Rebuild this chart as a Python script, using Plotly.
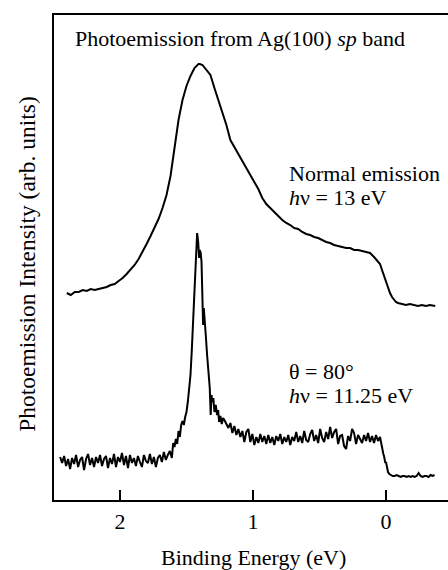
import plotly.graph_objects as go

# ---- Data (binding energy in eV, intensity in arbitrary units) ----
normal_energy = [2.40, 2.37, 2.34, 2.31, 2.28, 2.25, 2.22, 2.19, 2.16, 2.13, 2.10, 2.07, 2.04, 2.01,
                 1.98, 1.95, 1.92, 1.89, 1.86, 1.83, 1.80, 1.77, 1.74, 1.71, 1.68, 1.65, 1.62, 1.59,
                 1.56, 1.53, 1.50, 1.47, 1.44, 1.41, 1.40, 1.38, 1.35, 1.32, 1.29, 1.26, 1.23, 1.20,
                 1.17, 1.14, 1.11, 1.08, 1.05, 1.02, 0.99, 0.96, 0.93, 0.90, 0.87, 0.84, 0.81, 0.78,
                 0.75, 0.72, 0.69, 0.66, 0.63, 0.60, 0.57, 0.54, 0.51, 0.48, 0.45, 0.42, 0.39, 0.36,
                 0.33, 0.30, 0.27, 0.24, 0.21, 0.18, 0.15, 0.12, 0.09, 0.06, 0.045, 0.03, 0.015, 0.00,
                 -0.015, -0.03, -0.045, -0.06, -0.075, -0.09, -0.12, -0.15, -0.18, -0.21, -0.24,
                 -0.27, -0.30, -0.33, -0.36, -0.37]
normal_intensity = [207, 205, 208, 208, 210, 209, 211, 210, 211, 212, 213, 215, 216, 219,
                    222, 226, 230, 235, 241, 248, 256, 264, 272, 281, 292, 305, 324, 352,
                    380, 400, 414, 424, 432, 436, 436, 435, 430, 425, 412, 400, 388, 375,
                    360, 353, 346, 339, 332, 326, 318, 311, 302, 296, 292, 288, 283, 280,
                    277, 275, 272, 271, 268, 266, 265, 263, 262, 260, 258, 257, 255, 254,
                    253, 252, 252, 250, 250, 249, 248, 247, 243, 239, 236, 230, 224, 218,
                    212, 207, 203, 200, 198, 197, 196, 195, 196, 195, 194,
                    195, 194, 195, 194, 194]

grazing_energy = [2.450, 2.435, 2.420, 2.405, 2.390, 2.375, 2.360, 2.345, 2.330, 2.315, 2.300,
                  2.285, 2.270, 2.255, 2.240, 2.225, 2.210, 2.195, 2.180, 2.165, 2.150, 2.135,
                  2.120, 2.105, 2.090, 2.075, 2.060, 2.045, 2.030, 2.015, 2.000, 1.985, 1.970,
                  1.955, 1.940, 1.925, 1.910, 1.895, 1.880, 1.865, 1.850, 1.835, 1.820, 1.805,
                  1.790, 1.775, 1.760, 1.745, 1.730, 1.715, 1.700, 1.685, 1.670, 1.655, 1.640,
                  1.625, 1.610, 1.600, 1.590, 1.580, 1.570, 1.560, 1.550, 1.540, 1.530, 1.520,
                  1.510, 1.500, 1.490, 1.480, 1.470, 1.460, 1.450, 1.440, 1.430, 1.420, 1.412,
                  1.405, 1.400, 1.393, 1.387, 1.380, 1.375, 1.370, 1.363, 1.355, 1.345, 1.335,
                  1.325, 1.318, 1.312, 1.305, 1.298, 1.290, 1.280, 1.270, 1.262, 1.255, 1.245,
                  1.235, 1.225,
                  1.215, 1.200, 1.185, 1.170, 1.155, 1.140, 1.125, 1.110, 1.095, 1.080, 1.065,
                  1.050, 1.035, 1.020, 1.005, 0.990, 0.975, 0.960, 0.945, 0.930, 0.915, 0.900,
                  0.885, 0.870, 0.855, 0.840, 0.825, 0.810, 0.795, 0.780, 0.765, 0.750, 0.735,
                  0.720, 0.705, 0.690, 0.675, 0.660, 0.645, 0.630, 0.615, 0.600, 0.585, 0.570,
                  0.555, 0.540, 0.525, 0.510, 0.495, 0.480, 0.465, 0.450, 0.435, 0.420, 0.405,
                  0.390, 0.375, 0.360, 0.345, 0.330, 0.315, 0.300, 0.285, 0.270, 0.255, 0.240,
                  0.225, 0.210, 0.195, 0.180, 0.165, 0.150, 0.135, 0.120, 0.105, 0.090, 0.075,
                  0.060, 0.045,
                  0.035, 0.030, 0.025, 0.020, 0.015, 0.010, 0.005, 0.000, -0.005, -0.010, -0.015,
                  -0.025, -0.035, -0.050, -0.065, -0.080, -0.095, -0.110, -0.125, -0.140, -0.155,
                  -0.170, -0.185, -0.200, -0.215, -0.230, -0.245, -0.260, -0.275, -0.290, -0.305,
                  -0.320, -0.335, -0.350, -0.365]
grazing_intensity = [43, 37, 44, 34, 41, 31, 42, 36, 45, 33, 40,
                     43, 30, 41, 46, 35, 42, 33, 43, 37, 45, 34,
                     41, 44, 32, 42, 36, 46, 33, 43, 38, 47, 35,
                     44, 32, 45, 37, 42, 34, 44, 38, 33, 45, 39,
                     37, 46, 36, 43, 33, 42, 45, 38, 48, 40, 45,
                     49, 42, 57, 53, 61, 56, 69, 63, 75, 79, 75,
                     83, 88, 98, 112, 125, 150, 178, 210, 240, 267, 258,
                     242, 250, 247, 238, 195, 175, 192, 172, 165, 145, 125,
                     112, 85, 105, 98, 102, 88, 95, 85, 90, 78, 84,
                     76, 82,
                     80, 76, 72, 77, 67, 74, 65, 71, 63, 69, 58,
                     68, 71, 58, 66, 55, 63, 57, 66, 58, 64, 56,
                     65, 57, 63, 55, 64, 59, 66, 56, 63, 58, 65,
                     55, 63, 59, 68, 58, 64, 57, 69, 60, 58, 66,
                     70, 59, 65, 57, 71, 62, 58, 68, 61, 73, 62,
                     68, 71, 56, 64, 65, 54, 51, 64, 59, 71, 67,
                     56, 65, 61, 57, 65, 59, 67, 58, 64, 57, 65,
                     59, 63,
                     55, 52, 47, 46, 44, 40, 37, 38, 34, 32, 28,
                     26, 25, 24, 24, 25, 24, 23, 24, 24, 23,
                     24, 23, 24, 23, 24, 27, 24, 23, 24, 24,
                     23, 25, 24, 25]

tick_values = [2, 1, 0]
tick_labels = ["2", "1", "0"]

FONT = "Liberation Serif, Times New Roman, serif"

fig = go.Figure()
fig.add_trace(go.Scatter(x=normal_energy, y=normal_intensity, mode="lines",
                         line=dict(color="black", width=2), showlegend=False))
fig.add_trace(go.Scatter(x=grazing_energy, y=grazing_intensity, mode="lines",
                         line=dict(color="black", width=2), showlegend=False))

ann_font = dict(family=FONT, size=22, color="black")
fig.add_annotation(x=2.353, y=462, xref="x", yref="y", xanchor="left", yanchor="middle",
                   text="Photoemission from Ag(100) <i>sp</i> band", showarrow=False, font=ann_font)
fig.add_annotation(x=0.745, y=327, xref="x", yref="y", xanchor="left", yanchor="middle",
                   text="Normal emission", showarrow=False, font=ann_font)
fig.add_annotation(x=0.745, y=303, xref="x", yref="y", xanchor="left", yanchor="middle",
                   text="<i>h</i>ν = 13 eV", showarrow=False, font=ann_font)
fig.add_annotation(x=0.748, y=129, xref="x", yref="y", xanchor="left", yanchor="middle",
                   text="θ = 80°", showarrow=False, font=ann_font)
fig.add_annotation(x=0.748, y=105, xref="x", yref="y", xanchor="left", yanchor="middle",
                   text="<i>h</i>ν = 11.25 eV", showarrow=False, font=ann_font)
# axis titles
fig.add_annotation(x=0, y=0.487, xref="paper", yref="paper", xanchor="center", yanchor="middle",
                   xshift=-27, textangle=-90, text="Photoemission Intensity (arb. units)",
                   showarrow=False, font=dict(family=FONT, size=23.5, color="black"))
fig.add_annotation(x=1.0, y=-0.119, xref="x", yref="paper", xanchor="center", yanchor="middle",
                   text="Binding Energy (eV)", showarrow=False, font=ann_font)

fig.update_layout(
    width=448, height=570,
    margin=dict(l=54, r=0, t=15, b=70),
    paper_bgcolor="white", plot_bgcolor="white",
    font=dict(family=FONT, size=22, color="black"),
    xaxis=dict(range=[2.496, -0.466], showgrid=False, zeroline=False,
               showline=True, linecolor="black", linewidth=1.5, mirror=True,
               ticks="inside", ticklen=10, tickwidth=1.5, tickcolor="black",
               tickvals=tick_values, ticktext=tick_labels, ticklabelstandoff=1,
               tickfont=dict(family=FONT, size=22, color="black")),
    yaxis=dict(range=[0, 485], showgrid=False, zeroline=False,
               showline=True, linecolor="black", linewidth=1.5,
               showticklabels=False, ticks=""),
)

fig.write_html("out.html", config={"displayModeBar": False},
               post_script="document.body.style.margin='0px';document.body.style.overflow='hidden';")
